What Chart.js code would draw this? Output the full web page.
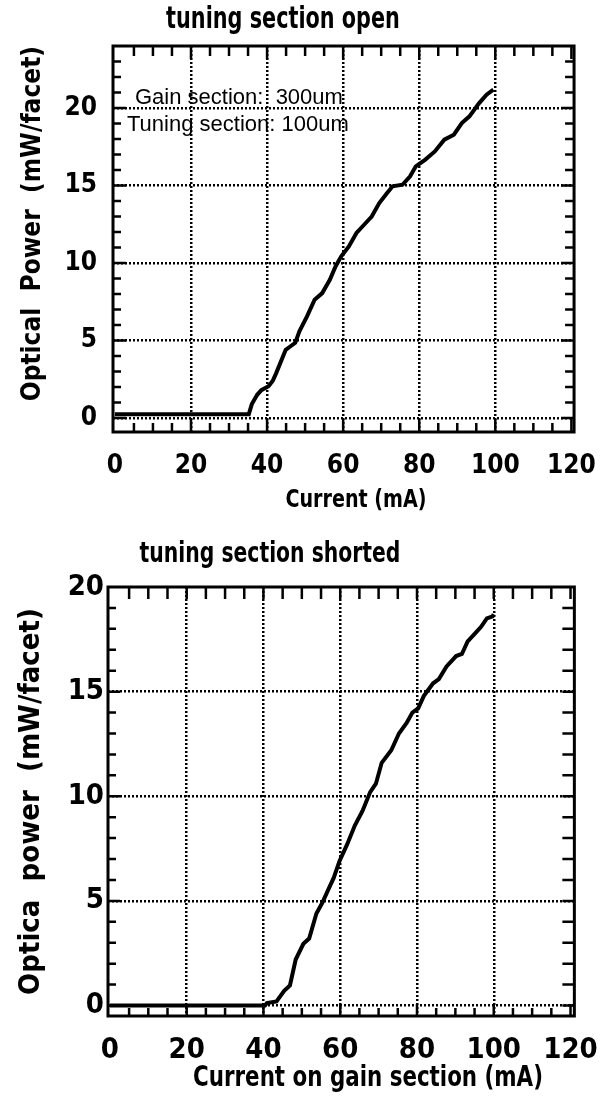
<!DOCTYPE html>
<html>
<head>
<meta charset="utf-8">
<script src="https://cdn.jsdelivr.net/npm/chart.js@4.4.0/dist/chart.umd.min.js"></script>
<style>
body { margin: 0; background: #fff; width: 615px; height: 1101px; overflow: hidden; }
.panel { position: absolute; left: 0; width: 615px; }
</style>
</head>
<body>
<div class="panel" style="top:0;height:520px"><canvas id="openChart" width="615" height="520"></canvas></div>
<div class="panel" style="top:520px;height:581px"><canvas id="shortChart" width="615" height="581"></canvas></div>
<script>
// tuning section open
var openCurrent = [0, 35.2, 36, 37.4, 38.5, 40.4, 41.5, 42.4, 44.9, 46, 47.4, 48.5, 50.5, 52.5, 54.5, 56.5, 58, 59.5, 61.5, 63.5, 65.5, 67.5, 69.5, 71.5, 73, 75.6, 77.6, 79.1, 81.6, 84.1, 86.6, 89.1, 91.2, 93.2, 95.7, 97.7, 99.5];
var openPower = [0.25, 0.25, 0.9, 1.5, 1.8, 2.05, 2.4, 2.9, 4.4, 4.6, 4.85, 5.6, 6.56, 7.63, 8.06, 8.92, 9.78, 10.43, 11.07, 11.94, 12.47, 13.0, 13.87, 14.5, 14.95, 15.05, 15.6, 16.24, 16.67, 17.2, 17.96, 18.28, 19.03, 19.46, 20.3, 20.86, 21.18];

// tuning section shorted
var shortCurrent = [0, 40.4, 40.9, 43.4, 45.4, 46.9, 48.4, 50.4, 51.9, 53.8, 55.3, 56.8, 58.3, 59.8, 61.8, 63.8, 65.8, 67.8, 69.3, 70.8, 73.3, 75.3, 77.3, 78.8, 80.3, 81.8, 84.2, 85.7, 87.7, 90.2, 91.7, 93.2, 95.2, 96.7, 98.2, 99.7, 100];
var shortPower = [0, 0, 0.12, 0.2, 0.7, 0.96, 2.2, 2.95, 3.2, 4.4, 4.9, 5.5, 6.1, 6.9, 7.7, 8.6, 9.3, 10.2, 10.6, 11.6, 12.2, 13.0, 13.5, 14.0, 14.2, 14.8, 15.4, 15.6, 16.2, 16.7, 16.8, 17.4, 17.8, 18.1, 18.5, 18.6, 18.7];

var xTickLabels = ['0', '20', '40', '60', '80', '100', '120'];
var openYLabels = ['0', '5', '10', '15', '20'];
var shortYLabels = ['0', '5', '10', '15', '20'];

var NARROW = "'Liberation Sans Narrow', 'DejaVu Sans Condensed', 'Liberation Sans', sans-serif";

// minor ticks, box and free text
var frame = {
	id: 'frame',
	afterDraw: function(chart, args, o) {
		var ctx = chart.ctx, a = chart.chartArea;
		var xs = chart.scales.x, ys = chart.scales.y;
		ctx.save();
		ctx.strokeStyle = '#000';
		ctx.lineWidth = 2.5;
		ctx.beginPath();
		for (var v = 0; v <= 120; v += 5) {
			var px = xs.getPixelForValue(v);
			if (px <= a.left + 2 || px >= a.right - 2) continue;
			var big = v % 20 === 0;
			ctx.moveTo(px, a.bottom); ctx.lineTo(px, a.bottom - (big ? o.major : o.xBottom));
			ctx.moveTo(px, a.top); ctx.lineTo(px, a.top + (big ? o.major : o.xTop));
		}
		for (var w = Math.ceil(ys.min); w <= ys.max; w++) {
			var py = ys.getPixelForValue(w);
			if (py <= a.top + 2 || py >= a.bottom - 2) continue;
			var big2 = w % 5 === 0;
			ctx.moveTo(a.left, py); ctx.lineTo(a.left + (big2 ? o.major : o.yLeft), py);
			ctx.moveTo(a.right, py); ctx.lineTo(a.right - (big2 ? o.major : o.yRight), py);
		}
		ctx.stroke();
		ctx.lineWidth = 3;
		ctx.strokeRect(a.left, a.top, a.right - a.left, a.bottom - a.top);
		ctx.fillStyle = '#000';
		o.texts.forEach(function(t) {
			ctx.save();
			ctx.font = t.font;
			ctx.textAlign = t.align || 'center';
			ctx.textBaseline = t.base || 'middle';
			ctx.translate(t.x, t.y);
			ctx.scale(t.sx || 1, 1);
			ctx.fillText(t.text, 0, 0);
			ctx.restore();
		});
		ctx.restore();
	}
};

function makeChart(id, cfg) {
	var canvas = document.getElementById(id);
	return new Chart(canvas, {
		type: 'line',
		data: {
			datasets: [{
				data: cfg.current.map(function(c, i) { return { x: c, y: cfg.power[i] }; }),
				borderColor: '#000',
				borderWidth: 4,
				pointRadius: 0,
				tension: 0,
				fill: false
			}]
		},
		options: {
			responsive: false,
			animation: false,
			layout: { padding: { top: cfg.area.top, right: canvas.width - cfg.area.right, left: 0, bottom: 0 } },
			plugins: {
				legend: { display: false },
				tooltip: { enabled: false },
				frame: cfg.frame
			},
			scales: {
				x: {
					type: 'linear',
					min: cfg.xMin, max: cfg.xMax,
					afterFit: function(s) { s.height = canvas.height - cfg.area.bottom; },
					ticks: {
						stepSize: 20, includeBounds: false, maxRotation: 0, autoSkip: false,
						padding: cfg.xPad, color: '#000',
						font: { family: NARROW, size: cfg.tickSize, weight: 'bold' },
						callback: function(v) { return xTickLabels[v / 20]; }
					},
					grid: {
						drawTicks: false, lineWidth: 2.5,
						color: function(c) { return (c.tick && (c.tick.value <= 0 || c.tick.value >= 120)) ? 'rgba(0,0,0,0)' : '#000'; }
					},
					border: { display: false, dash: [2, 2] }
				},
				y: {
					type: 'linear',
					min: cfg.yMin, max: cfg.yMax,
					afterFit: function(s) { s.width = cfg.area.left; },
					ticks: {
						stepSize: 5, includeBounds: false, autoSkip: false,
						padding: cfg.yPad, color: '#000',
						font: { family: NARROW, size: cfg.tickSize, weight: 'bold' },
						callback: function(v) { return cfg.yLabels[v / 5]; }
					},
					grid: {
						drawTicks: false, lineWidth: 2.5,
						color: function(c) { return (c.tick && c.tick.value >= 20 && cfg.yMax < 21) ? 'rgba(0,0,0,0)' : '#000'; }
					},
					border: { display: false, dash: [2, 2] },
					title: {
						display: true, text: cfg.yTitle, color: '#000', align: cfg.yTitleAlign,
						font: { family: NARROW, size: cfg.yTitleSize, weight: 'bold' },
						padding: { top: cfg.yTitlePad, bottom: 0 }
					}
				}
			}
		},
		plugins: [frame]
	});
}

makeChart('openChart', {
	current: openCurrent, power: openPower, yLabels: openYLabels,
	area: { left: 113, right: 582, top: 46, bottom: 432 },
	xMin: -0.5, xMax: 120.7, yMin: -0.9, yMax: 24,
	tickSize: 26, xPad: 19, yPad: 16,
	yTitle: 'Optical  Power  (mW/facet)', yTitleSize: 26, yTitlePad: 18, yTitleAlign: 'end',
	frame: {
		major: 13, xBottom: 9, xTop: 10, yLeft: 8, yRight: 9,
		texts: [
			{ text: 'tuning section open', x: 283, y: 20, sx: 0.77, font: 'bold 30px ' + NARROW },
			{ text: 'Current (mA)', x: 356, y: 500, sx: 0.85, font: 'bold 25px ' + NARROW },
			{ text: 'Gain section:  300um', x: 135, y: 104, align: 'left', base: 'alphabetic', font: '22px "Liberation Sans", Arial, sans-serif' },
			{ text: 'Tuning section: 100um', x: 127, y: 131, align: 'left', base: 'alphabetic', font: '22px "Liberation Sans", Arial, sans-serif' }
		]
	}
});

makeChart('shortChart', {
	current: shortCurrent, power: shortPower, yLabels: shortYLabels,
	area: { left: 108, right: 585, top: 67, bottom: 496 },
	xMin: -0.5, xMax: 121, yMin: -0.5, yMax: 20,
	tickSize: 29, xPad: 17, yPad: 4,
	yTitle: 'Optica  power  (mW/facet)', yTitleSize: 29, yTitlePad: 14, yTitleAlign: 'center',
	frame: {
		major: 12, xBottom: 8, xTop: 12, yLeft: 8, yRight: 12,
		texts: [
			{ text: 'tuning section shorted', x: 270, y: 34, sx: 0.78, font: 'bold 29px ' + NARROW },
			{ text: 'Current on gain section (mA)', x: 368, y: 558, sx: 0.82, font: 'bold 29px ' + NARROW }
		]
	}
});
</script>
</body>
</html>
